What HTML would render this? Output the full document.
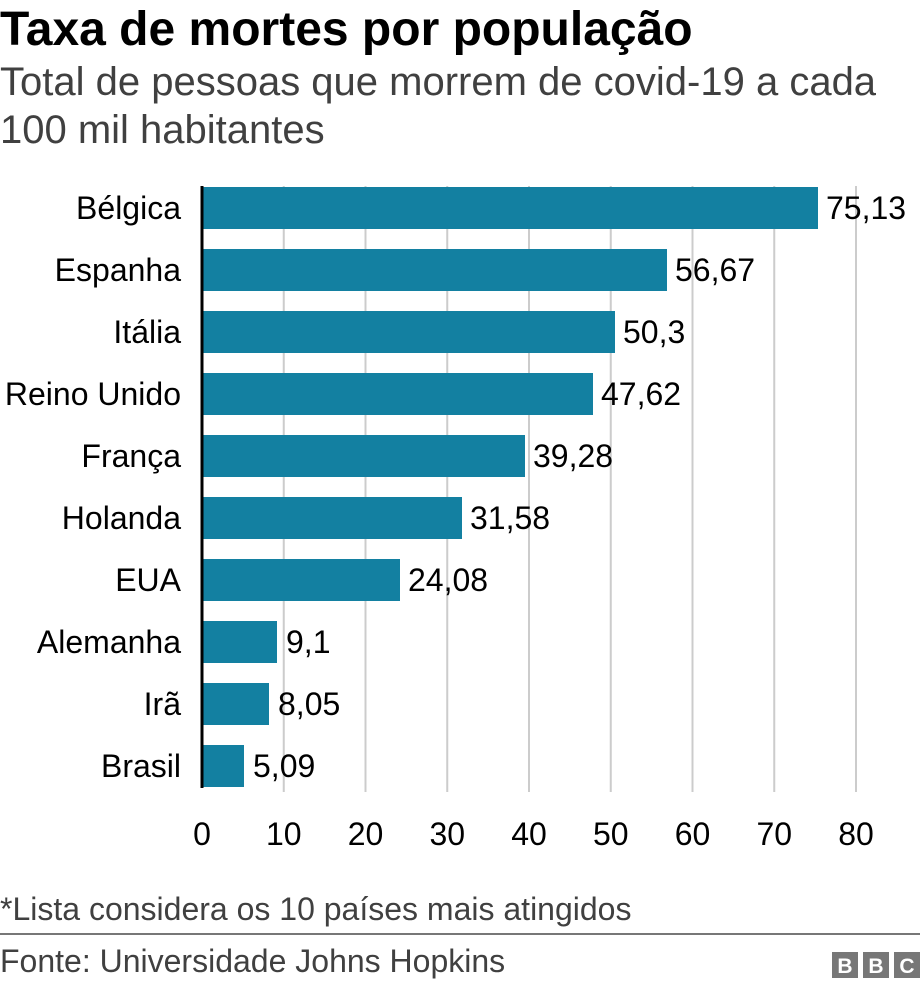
<!DOCTYPE html>
<html><head><meta charset="utf-8"><style>
body{margin:0;width:920px;height:988px;background:#fff;font-family:"Liberation Sans",Arial,sans-serif;overflow:hidden;position:relative}
</style></head><body>
<svg width="920" height="988" style="position:absolute;left:0;top:0" font-family="Liberation Sans, Arial, sans-serif">
<text x="0" y="45" font-size="48" font-weight="bold" fill="#000">Taxa de mortes por população</text>
<text x="0" y="95" font-size="40" fill="#404040">Total de pessoas que morrem de covid-19 a cada</text>
<text x="0" y="143" font-size="40" fill="#404040">100 mil habitantes</text>
<g stroke="#cccccc" stroke-width="2">
<line x1="283.75" y1="186" x2="283.75" y2="792"/><line x1="365.5" y1="186" x2="365.5" y2="792"/><line x1="447.25" y1="186" x2="447.25" y2="792"/><line x1="529" y1="186" x2="529" y2="792"/><line x1="610.75" y1="186" x2="610.75" y2="792"/><line x1="692.5" y1="186" x2="692.5" y2="792"/><line x1="774.25" y1="186" x2="774.25" y2="792"/><line x1="856" y1="186" x2="856" y2="792"/>
</g>
<g fill="#1380a1">
<rect x="202" y="187" width="616" height="42"/>
<rect x="202" y="249" width="465" height="42"/>
<rect x="202" y="311" width="413" height="42"/>
<rect x="202" y="373" width="391" height="42"/>
<rect x="202" y="435" width="323" height="42"/>
<rect x="202" y="497" width="260" height="42"/>
<rect x="202" y="559" width="198" height="42"/>
<rect x="202" y="621" width="75" height="42"/>
<rect x="202" y="683" width="67" height="42"/>
<rect x="202" y="745" width="42" height="42"/>
</g>
<line x1="202" y1="186" x2="202" y2="788" stroke="#000" stroke-width="3"/>
<g font-size="32" fill="#000" text-anchor="end">
<text x="181" y="219">Bélgica</text><text x="181" y="281">Espanha</text><text x="181" y="343">Itália</text><text x="181" y="405">Reino Unido</text><text x="181" y="467">França</text><text x="181" y="529">Holanda</text><text x="181" y="591">EUA</text><text x="181" y="653">Alemanha</text><text x="181" y="715">Irã</text><text x="181" y="777">Brasil</text>
</g>
<g font-size="32" fill="#000">
<text x="826" y="219">75,13</text><text x="675" y="281">56,67</text><text x="623" y="343">50,3</text><text x="601" y="405">47,62</text><text x="533" y="467">39,28</text><text x="470" y="529">31,58</text><text x="408" y="591">24,08</text><text x="286" y="653">9,1</text><text x="278" y="715">8,05</text><text x="253" y="777">5,09</text>
</g>
<g font-size="32" fill="#000" text-anchor="middle">
<text x="202" y="845">0</text><text x="283.75" y="845">10</text><text x="365.5" y="845">20</text><text x="447.25" y="845">30</text><text x="529" y="845">40</text><text x="610.75" y="845">50</text><text x="692.5" y="845">60</text><text x="774.25" y="845">70</text><text x="856" y="845">80</text>
</g>
<text x="0" y="920" font-size="32" fill="#404040">*Lista considera os 10 países mais atingidos</text>
<line x1="0" y1="934" x2="920" y2="934" stroke="#777" stroke-width="2"/>
<text x="0" y="972" font-size="32" fill="#404040">Fonte: Universidade Johns Hopkins</text>
<g fill="#777"><rect x="832" y="952" width="26" height="26"/><rect x="863" y="952" width="26" height="26"/><rect x="894" y="952" width="26" height="26"/></g>
<g fill="#fff" font-size="21" font-weight="bold" text-anchor="middle"><text x="845" y="973">B</text><text x="876" y="973">B</text><text x="907" y="973">C</text></g>
</svg>
</body></html>
